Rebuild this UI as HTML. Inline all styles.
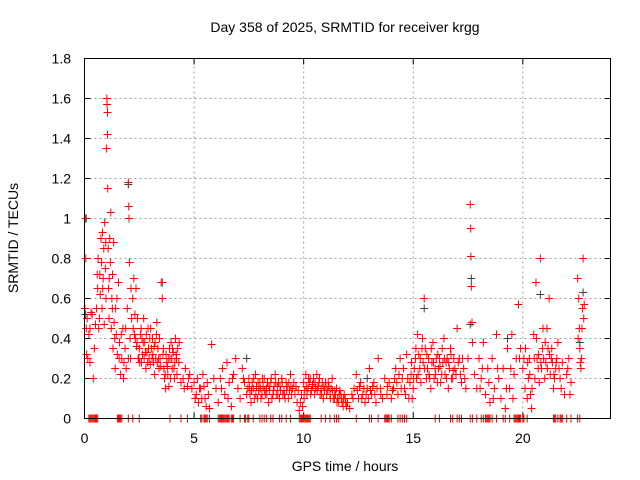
<!DOCTYPE html>
<html><head><meta charset="utf-8"><style>
html,body{margin:0;padding:0;background:#fff}
svg{display:block;font-family:"Liberation Sans",sans-serif}
</style></head><body>
<svg id="chart" width="640" height="480" viewBox="0 0 640 480" xmlns="http://www.w3.org/2000/svg">
<rect width="640" height="480" fill="#fff"/>
<text x="345" y="32" font-size="14" text-anchor="middle">Day 358 of 2025, SRMTID for receiver krgg</text>
<text x="345" y="471" font-size="14" text-anchor="middle">GPS time / hours</text>
<text transform="translate(18,238) rotate(-90)" font-size="14" text-anchor="middle">SRMTID / TECUs</text>
<g id="grid"></g>
<g id="ticks"></g>
<g id="marks"></g>
<rect x="84.5" y="58.5" width="526" height="360" fill="none" stroke="#000" stroke-width="1"/>
</svg>
<script>
const xTicks=[0,5,10,15,20];
const yTicks=[0,0.2,0.4,0.6,0.8,1,1.2,1.4,1.6,1.8];
const yTickLabels=["0","0.2","0.4","0.6","0.8","1","1.2","1.4","1.6","1.8"];
const redHours=[0.02,0.05,0.06,0.08,0.1,0.12,0.15,0.2,0.25,0.3,0.4,0.45,0.5,0.55,0.6,0.62,0.65,0.7,0.72,0.75,0.78,0.8,0.82,0.85,0.88,0.9,0.92,0.95,0.98,1.0,1.02,1.03,1.05,1.05,1.06,1.08,1.1,1.12,1.15,1.18,1.2,1.22,1.25,1.28,1.3,1.33,1.35,1.4,1.42,1.45,1.5,1.55,1.6,1.65,1.7,1.75,1.8,1.85,1.9,1.95,2.0,2.02,2.03,2.05,2.08,2.1,2.15,2.2,2.25,2.3,2.35,2.4,2.45,2.5,2.55,2.6,2.65,2.7,2.75,2.8,2.85,2.9,2.95,3.0,3.05,3.1,3.15,3.2,3.25,3.3,3.35,3.4,3.45,3.5,3.55,3.6,3.65,3.7,3.75,3.8,3.85,3.9,3.95,4.0,4.05,4.1,4.15,4.2,4.25,4.3,4.4,4.5,4.6,4.7,4.8,4.9,5.0,5.1,5.2,5.3,5.4,5.5,5.6,5.7,5.8,5.9,6.0,6.1,6.2,6.3,6.4,6.5,6.6,6.7,6.8,6.9,7.0,7.1,7.2,7.3,7.4,7.5,7.6,7.7,7.8,7.9,8.0,8.1,8.2,8.3,8.4,8.5,8.6,8.7,8.8,8.9,9.0,9.1,9.2,9.3,9.4,9.5,9.6,9.7,9.8,9.9,10.0,10.1,10.2,10.3,10.4,10.5,10.6,10.7,10.8,10.9,11.0,11.1,11.2,11.3,11.4,11.5,11.6,11.7,11.8,11.9,12.0,12.1,12.2,12.3,12.4,12.5,12.6,12.7,12.8,12.9,13.0,13.1,13.2,13.3,13.4,13.5,13.6,13.7,13.8,13.9,14.0,14.1,14.2,14.3,14.4,14.5,14.6,14.7,14.8,14.9,15.0,15.1,15.2,15.3,15.4,15.5,15.6,15.7,15.8,15.9,16.0,16.1,16.2,16.3,16.4,16.5,16.6,16.7,16.8,16.9,17.0,17.1,17.2,17.3,17.4,17.5,17.6,17.62,17.63,17.65,17.68,17.7,17.8,17.9,18.0,18.1,18.2,18.3,18.4,18.5,18.6,18.7,18.8,18.9,19.0,19.1,19.2,19.3,19.4,19.5,19.6,19.7,19.8,19.9,20.0,20.1,20.2,20.3,20.4,20.5,20.6,20.7,20.8,20.9,21.0,21.1,21.2,21.3,21.4,21.5,21.6,21.7,21.8,21.9,22.0,22.1,22.2,22.5,22.55,22.6,22.65,22.7,22.75,22.8,
0.25,0.35,0.58,0.68,0.83,0.97,1.13,1.27,1.38,1.48,1.58,1.68,1.78,1.88,2.12,2.22,2.32,2.42,2.52,2.62,2.72,2.82,2.92,3.02,3.12,3.22,3.32,3.42,3.62,3.72,3.82,3.92,4.02,4.12,4.22,4.32,4.55,4.75,5.05,5.15,5.25,5.35,5.45,5.55,5.65,6.25,6.55,6.75,7.25,7.45,7.55,7.65,7.75,7.85,7.95,8.05,8.15,8.25,8.35,8.45,8.55,8.65,8.75,8.85,8.95,9.05,9.15,9.25,9.35,9.45,9.55,9.65,9.75,9.85,9.95,10.05,10.15,10.25,10.35,10.45,10.55,10.65,10.75,10.85,10.95,11.05,11.15,11.25,11.35,11.45,11.55,11.65,11.75,11.85,11.95,12.25,12.45,12.55,12.65,12.75,12.85,12.95,13.05,13.15,13.25,13.35,14.05,14.15,14.25,14.35,14.45,14.55,14.65,14.75,14.85,14.95,15.05,15.15,15.25,15.35,15.45,15.55,15.65,15.75,15.85,15.95,16.05,16.15,16.25,16.35,16.45,16.55,16.65,16.75,16.85,16.95,17.05,17.15,17.25,17.35,18.05,18.15,18.45,18.65,18.85,19.25,19.45,19.55,19.85,20.05,20.25,20.35,20.55,20.65,20.75,20.85,20.95,21.05,21.15,21.25,21.35,21.45,21.55,21.65,21.75,22.05,22.15,22.58,22.68,22.78,
2.28,2.38,2.48,2.58,2.68,2.78,2.88,2.98,3.08,3.18,3.28,3.38,3.48,3.58,3.68,3.78,3.88,3.98,4.08,4.18,
7.52,7.62,7.72,7.82,7.92,8.02,8.12,8.22,8.32,8.42,8.52,8.62,8.72,8.82,8.92,9.02,9.12,9.22,9.32,9.42,
10.02,10.12,10.22,10.32,10.42,10.52,10.62,10.72,10.82,10.92,11.02,11.12,11.22,11.32,11.42,11.52,11.62,11.72,11.82,11.92,
14.92,15.02,15.12,15.22,15.32,15.42,15.52,15.62,15.72,15.82,15.92,16.02,16.12,16.22,16.32,16.42,16.52,16.62,16.72,16.82,
20.12,20.22,20.32,20.42,20.52,20.62,20.72,20.82,20.92,21.02,21.12,21.22,21.32,21.42,21.52,22.52,22.62,22.72,13.52,13.82];
const redTecu=[0.55,1.0,0.8,0.45,0.32,0.5,0.3,0.42,0.28,0.53,0.2,0.35,0.47,0.55,0.65,0.8,0.45,0.72,0.62,0.9,0.78,0.55,0.93,0.7,0.85,0.47,0.98,0.75,0.6,1.35,1.6,1.57,1.53,1.42,1.15,0.85,0.65,0.5,0.9,0.78,1.03,0.45,0.6,0.72,0.35,0.88,0.48,0.25,0.55,0.42,0.32,0.68,0.38,0.22,0.3,0.45,0.28,0.35,0.25,0.55,1.18,1.06,1.0,0.78,0.4,0.3,0.5,0.6,0.7,0.52,0.65,0.38,0.3,0.35,0.42,0.28,0.32,0.5,0.38,0.25,0.33,0.45,0.3,0.27,0.35,0.4,0.28,0.22,0.3,0.48,0.35,0.25,0.3,0.68,0.6,0.35,0.2,0.15,0.28,0.22,0.16,0.3,0.38,0.25,0.33,0.2,0.4,0.3,0.35,0.28,0.18,0.2,0.25,0.16,0.22,0.15,0.18,0.12,0.08,0.15,0.22,0.1,0.18,0.05,0.37,0.2,0.15,0.08,0.2,0.25,0.12,0.28,0.18,0.06,0.22,0.3,0.15,0.1,0.25,0.18,0.12,0.2,0.08,0.15,0.22,0.1,0.18,0.12,0.2,0.15,0.08,0.18,0.12,0.22,0.16,0.1,0.2,0.14,0.18,0.1,0.22,0.15,0.12,0.08,0.04,0.12,0.18,0.22,0.15,0.2,0.17,0.12,0.22,0.18,0.15,0.1,0.18,0.14,0.12,0.2,0.1,0.15,0.08,0.12,0.06,0.1,0.08,0.05,0.12,0.15,0.22,0.1,0.18,0.12,0.08,0.15,0.25,0.12,0.18,0.08,0.3,0.15,0.1,0.2,0.12,0.18,0.1,0.15,0.25,0.12,0.3,0.2,0.15,0.32,0.1,0.22,0.15,0.3,0.42,0.25,0.35,0.6,0.2,0.3,0.15,0.38,0.25,0.18,0.3,0.22,0.4,0.28,0.15,0.35,0.2,0.25,0.45,0.3,0.18,0.25,0.15,0.3,1.07,0.95,0.81,0.66,0.48,0.38,0.22,0.15,0.3,0.2,0.38,0.12,0.25,0.08,0.3,0.15,0.42,0.2,0.1,0.25,0.05,0.35,0.15,0.42,0.22,0.3,0.57,0.35,0.25,0.15,0.1,0.3,0.05,0.42,0.68,0.25,0.8,0.35,0.2,0.45,0.6,0.3,0.15,0.25,0.38,0.2,0.28,0.12,0.22,0.3,0.18,0.7,0.6,0.35,0.25,0.45,0.8,0.57,
0.45,0.52,0.72,0.5,0.65,0.88,0.7,0.55,0.4,0.6,0.3,0.42,0.2,0.45,0.65,0.45,0.4,0.5,0.28,0.4,0.3,0.42,0.35,0.45,0.32,0.38,0.28,0.4,0.25,0.32,0.3,0.2,0.35,0.28,0.22,0.38,0.15,0.2,0.1,0.2,0.15,0.1,0.16,0.06,0.12,0.15,0.1,0.2,0.2,0.15,0.12,0.18,0.1,0.16,0.14,0.1,0.16,0.12,0.18,0.14,0.1,0.16,0.12,0.18,0.14,0.12,0.1,0.16,0.14,0.12,0.18,0.16,0.14,0.08,0.06,0.14,0.12,0.18,0.14,0.2,0.15,0.16,0.12,0.18,0.14,0.12,0.16,0.15,0.1,0.12,0.1,0.14,0.08,0.12,0.06,0.1,0.14,0.16,0.1,0.15,0.12,0.1,0.14,0.16,0.12,0.15,0.14,0.2,0.18,0.22,0.15,0.25,0.12,0.2,0.18,0.1,0.25,0.2,0.32,0.18,0.28,0.35,0.25,0.2,0.28,0.2,0.3,0.25,0.18,0.28,0.22,0.3,0.25,0.2,0.3,0.22,0.28,0.22,0.3,0.2,0.15,0.25,0.18,0.1,0.25,0.15,0.25,0.1,0.3,0.3,0.2,0.12,0.2,0.3,0.18,0.25,0.3,0.28,0.35,0.22,0.28,0.2,0.3,0.25,0.15,0.25,0.12,0.45,0.3,0.5,
0.42,0.36,0.3,0.45,0.38,0.33,0.28,0.4,0.3,0.36,0.42,0.3,0.26,0.32,0.22,0.26,0.35,0.3,0.25,0.32,
0.16,0.14,0.2,0.12,0.18,0.15,0.2,0.14,0.12,0.16,0.2,0.14,0.18,0.12,0.16,0.18,0.12,0.14,0.18,0.16,
0.1,0.16,0.2,0.12,0.16,0.18,0.14,0.2,0.12,0.16,0.16,0.18,0.1,0.14,0.14,0.08,0.12,0.1,0.1,0.08,
0.28,0.2,0.35,0.22,0.3,0.4,0.25,0.32,0.22,0.35,0.28,0.22,0.32,0.26,0.35,0.3,0.2,0.28,0.32,0.24,
0.35,0.28,0.22,0.15,0.3,0.4,0.32,0.28,0.45,0.38,0.25,0.32,0.35,0.22,0.28,0.4,0.28,0.55,0.12,0.16];
const greyHours=[0.08,0.05,2.0,2.0,3.55,7.4,12.9,15.5,17.65,17.6,19.3,20.8,22.6,22.75];
const greyTecu=[1.0,0.52,1.17,0.3,0.68,0.3,0.2,0.55,0.7,0.47,0.4,0.62,0.38,0.63];
const zeroHours=[0.2,0.3,0.4,0.5,0.6,1.5,1.6,1.7,2.0,2.2,2.5,3.9,4.4,4.7,5.3,5.5,5.6,5.7,6.1,6.4,6.5,6.8,7.1,7.3,7.5,7.7,8.0,8.1,8.2,8.3,8.5,8.6,8.9,9.0,9.2,9.4,9.8,9.9,10.0,10.8,11.0,11.2,11.4,11.5,11.6,12.4,13.0,13.1,13.4,13.7,14.3,14.4,14.5,14.6,14.7,16.0,16.2,16.7,16.8,17.0,17.1,17.2,17.6,17.7,17.9,18.1,18.2,18.3,18.5,18.6,18.8,19.1,19.2,19.4,19.6,19.8,20.0,20.2,21.4,21.6,21.8,22.0,22.2,22.5,22.6,
0.25,0.35,0.45,0.55,1.55,1.65,5.35,5.45,5.55,6.15,6.2,6.25,6.3,6.35,6.45,6.55,6.6,6.7,6.75,7.35,7.45,9.85,9.95,10.05,10.1,10.15,10.2,10.25,10.3,13.75,13.8,13.85,13.9,14.0,18.35,18.4,18.45,19.65,19.7,19.75,19.85,19.9,20.05,21.45,21.5,21.7,21.75];

const NS="http://www.w3.org/2000/svg";
const X0=84.5,X1=610.5,Y0=418.5,Y1=58.5;
function sx(h){return X0+(h/24)*(X1-X0);}
function sy(v){return Y0-(v/1.8)*(Y0-Y1);}
function mk(tag,attrs,parent){const e=document.createElementNS(NS,tag);for(const k in attrs)e.setAttribute(k,attrs[k]);parent.appendChild(e);return e;}
const grid=document.getElementById('grid'),ticks=document.getElementById('ticks'),marks=document.getElementById('marks');
xTicks.forEach(t=>{
  const x=sx(t);
  if(t>0){const g=mk('line',{x1:x,x2:x,y1:Y0,y2:Y1,stroke:'#a0a0a0','stroke-dasharray':'2,3'},grid);
  
  }
  mk('line',{x1:x,x2:x,y1:Y0,y2:Y0-6,stroke:'#000'},ticks);
  mk('line',{x1:x,x2:x,y1:Y1,y2:Y1+6,stroke:'#000'},ticks);
  const l=mk('text',{x:x,y:443,'font-size':14,'text-anchor':'middle'},ticks);
  l.textContent=t;
  
  
});
yTicks.forEach((t,i)=>{
  const y=sy(t);
  if(t>0&&t<1.8){const g=mk('line',{x1:X0,x2:X1,y1:y,y2:y,stroke:'#a0a0a0','stroke-dasharray':'2,3'},grid);
  
  }
  mk('line',{x1:X0,x2:X0+6,y1:y,y2:y,stroke:'#000'},ticks);
  mk('line',{x1:X1,x2:X1-6,y1:y,y2:y,stroke:'#000'},ticks);
  const l=mk('text',{x:71,y:y+5,'font-size':14,'text-anchor':'end'},ticks);
  l.textContent=yTickLabels[i];
  
  
});
function plus(h,v,color,name){
  const x=sx(h),y=sy(v);
  const p=mk('path',{d:`M${x-4},${y}H${x+4}M${x},${y-4}V${y+4}`,stroke:color,'stroke-width':1,fill:'none'},marks);
  
  
}
greyHours.forEach((h,i)=>plus(h,greyTecu[i],'#404040','grey-point'));
redHours.forEach((h,i)=>plus(h,redTecu[i],'#ff0000','red-point'));
zeroHours.forEach(h=>plus(h,0,'#ff0000','zero-point'));
</script>
</body></html>
